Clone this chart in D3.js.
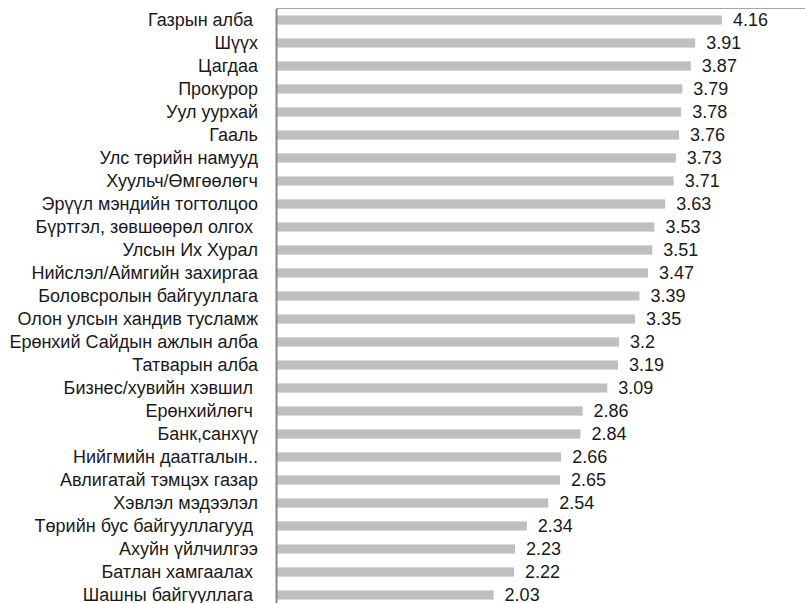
<!DOCTYPE html>
<meta charset="utf-8">
<style>
body { margin: 0; background: #fff; }
text { font-family: "Liberation Sans", Arial, sans-serif; white-space: pre; }
</style>
<body>
<script src="https://d3js.org/d3.v7.min.js"></script>
<script>

// categories and values (top to bottom)
var categories = [
  "Газрын алба ", "Шүүх", "Цагдаа", "Прокурор", "Уул уурхай", "Гааль",
  "Улс төрийн намууд", "Хуульч/Өмгөөлөгч", "Эрүүл мэндийн тогтолцоо",
  "Бүртгэл, зөвшөөрөл олгох ", "Улсын Их Хурал", "Нийслэл/Аймгийн захиргаа",
  "Боловсролын байгууллага", "Олон улсын хандив тусламж", "Ерөнхий Сайдын ажлын алба",
  "Татварын алба", "Бизнес/хувийн хэвшил ", "Ерөнхийлөгч ", "Банк,санхүү",
  "Нийгмийн даатгалын..", "Авлигатай тэмцэх газар", "Хэвлэл мэдээлэл",
  "Төрийн бус байгууллагууд ", "Ахуйн үйлчилгээ", "Батлан хамгаалах ", "Шашны байгууллага "
];
var values = [4.16, 3.91, 3.87, 3.79, 3.78, 3.76, 3.73, 3.71, 3.63, 3.53, 3.51, 3.47,
  3.39, 3.35, 3.2, 3.19, 3.09, 2.86, 2.84, 2.66, 2.65, 2.54, 2.34, 2.23, 2.22, 2.03];

var data = categories.map(function(c, i) { return {name: c, value: values[i]}; });

var width = 805, height = 603;
var plotLeft = 276, plotTop = 8.5;

var svg = d3.select("body")
  .append("svg")
    .attr("width", width)
    .attr("height", height);

var x = d3.scaleLinear()
  .domain([0, 5])
  .range([plotLeft, plotLeft + 536]);

var y = d3.scaleBand()
  .domain(categories)
  .range([plotTop, plotTop + 598])
  .paddingInner(0.6)
  .paddingOuter(0.3);

// top border of plot area
svg.append("line")
  .attr("x1", plotLeft).attr("x2", width)
  .attr("y1", plotTop).attr("y2", plotTop)
  .attr("stroke", "#a6a6a6")
  .attr("stroke-width", 1);

// bars
svg.selectAll("myBars")
  .data(data)
  .enter()
  .append("rect")
    .attr("x", x(0))
    .attr("y", function(d) { return y(d.name); })
    .attr("width", function(d) { return x(d.value) - x(0); })
    .attr("height", y.bandwidth())
    .attr("fill", "#bfbfbf");

// value labels
svg.selectAll("myValues")
  .data(data)
  .enter()
  .append("text")
    .attr("x", function(d) { return x(d.value) + 11; })
    .attr("y", function(d) { return y(d.name) + y.bandwidth() / 2; })
    .attr("dy", "0.35em")
    .style("font-size", "18px")
    .style("fill", "#1a1a1a")
    .text(function(d) { return d.value; });

// category axis
var yAxis = svg.append("g")
  .attr("transform", "translate(" + plotLeft + ",0)")
  .call(d3.axisLeft(y).tickSize(0).tickPadding(18));

yAxis.select(".domain")
  .attr("stroke", "#878787")
  .attr("stroke-width", 2);

yAxis.selectAll(".tick text")
  .style("font-size", "18px")
  .style("font-family", "'Liberation Sans', Arial, sans-serif")
  .style("fill", "#1a1a1a");

</script>
</body>
